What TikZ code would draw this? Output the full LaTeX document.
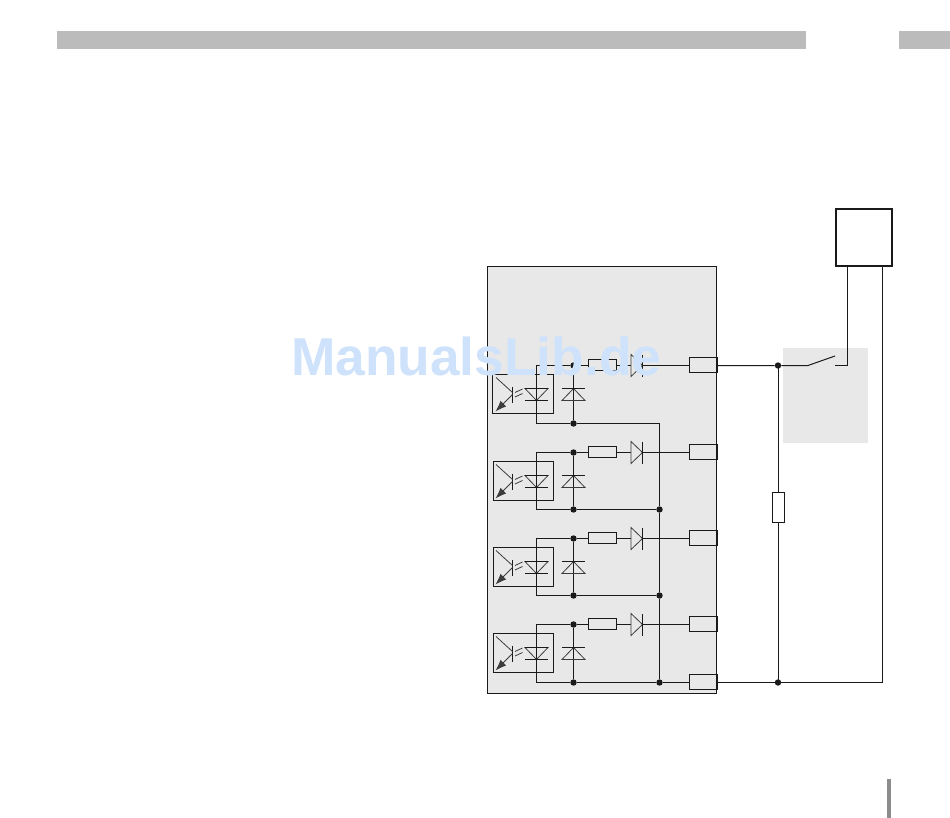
\documentclass[tikz,border=0pt]{standalone}
\usepackage{fontspec}
\setmainfont{Liberation Sans}
\usetikzlibrary{arrows.meta}
\definecolor{panel}{HTML}{E8E8E8}
\definecolor{headbar}{HTML}{BBBBBB}
\definecolor{sidebar}{HTML}{8C8C8C}
\definecolor{wm}{HTML}{CEE2FB}
\definecolor{ink}{HTML}{1A1A1A}
\tikzset{
  wire/.style={draw=ink,line width=1pt},
  thinwire/.style={draw=ink!85,line width=0.8pt},
  boxpart/.style={draw=ink,line width=1pt,minimum width=0pt,inner sep=0pt,outer sep=0pt,rectangle},
  junction/.style={circle,fill=ink,inner sep=0pt,minimum size=6.4pt},
  pinbox/.style={boxpart,minimum width=28pt,minimum height=15pt},
  resbox/.style={boxpart,minimum width=28pt,minimum height=11pt},
}
\begin{document}
\begin{tikzpicture}[x=1pt,y=-1pt]
\useasboundingbox (0,0) rectangle (950,818);
\fill[white] (0,0) rectangle (950,818);
% header and side bars
\fill[headbar] (57,31.5) rectangle (806,49.5);
\fill[headbar] (899,31.5) rectangle (950,49.5);
\fill[sidebar] (887,779) rectangle (891,818);
% panels
\path[fill=panel,draw=ink,line width=0.9pt] (487.5,266.5) rectangle (716.5,693.5);
\fill[panel] (783,348) rectangle (867.5,443);
% per-channel drawing
\foreach \n/\ty/\by/\ox in {1/365.5/423.5/492.5, 2/452.5/509.5/493.5, 3/538.5/595.5/493.5, 4/624.5/682.5/493.5}{
  \pgfmathsetmacro{\oy}{\ty+9}
  \coordinate (top\n) at (536.5,\ty);
  \coordinate (bot\n) at (536.5,\by);
  \node[junction] (dt\n) at (573.5,\ty) {};
  \node[junction] (db\n) at (573.5,\by) {};
  \node[resbox] (res\n) at (602.5,\ty-0.5) {};
  \node[pinbox] (pin\n) at (703.5,\ty-0.5) {};
  \coordinate (dA\n) at (631,\ty);
  \coordinate (dK\n) at (642.5,\ty);
  % wiring
  \draw[wire] (bot\n) -- (top\n) -- (dt\n) -- (res\n.west |- dt\n);
  \draw[wire] (res\n.east |- dA\n) -- (dA\n);
  \draw[wire] (dK\n) -- (pin\n.west |- dK\n);
  \draw[wire] (dt\n) -- (db\n);
  \draw[wire] (bot\n) -- (db\n);
  % series diode
  \draw[thinwire] (631,\ty-11) -- (631,\ty+11) -- (dK\n) -- cycle;
  \draw[wire] (642.5,\ty-11) -- (642.5,\ty+11);
  % clamp diode
  \draw[thinwire] (573.5,\oy+14) -- (562,\oy+26) -- (585,\oy+26) -- cycle;
  \draw[wire] (562,\oy+14) -- (585,\oy+14);
  % opto coupler
  \draw[wire] (\ox,\oy) rectangle (553.5,\oy+39);
  \draw[thinwire] (525,\oy+14) -- (548,\oy+14) -- (536.5,\oy+26) -- cycle;
  \draw[wire] (525,\oy+14) -- (548,\oy+14);
  \draw[wire] (525,\oy+26) -- (548,\oy+26);
  \draw[wire] (512.5,\oy+12) -- (512.5,\oy+28);
  \draw[thinwire] (496,\oy+3) -- (512.5,\oy+18);
  \draw[thinwire,-{Latex[length=11pt,width=8pt]}] (512.5,\oy+20) -- (495.5,\oy+37);
  \draw[thinwire] (515,\oy+18) -- (522.5,\oy+14.5);
  \draw[thinwire] (515,\oy+22.5) -- (522.5,\oy+19);
}
% common return
\node[junction] (jc2) at (659.5,509.5) {};
\node[junction] (jc3) at (659.5,595.5) {};
\node[junction] (jc4) at (659.5,682.5) {};
\node[pinbox] (pin5) at (703.5,682) {};
\draw[wire] (db1) -- (659.5,423.5) -- (jc2);
\draw[wire] (db2) -- (jc2) -- (jc3) -- (jc4);
\draw[wire] (db3) -- (jc3);
\draw[wire] (db4) -- (jc4) -- (pin5.west |- jc4);
% external circuit
\node[junction] (ja) at (778,365.5) {};
\node[junction] (jb) at (778,682.5) {};
\node[boxpart,minimum width=12pt,minimum height=30pt,fill=white] (rext) at (778.5,507.5) {};
\node[draw=ink,line width=2pt,rectangle,inner sep=0pt,minimum width=56pt,minimum height=57pt] (load) at (864,237.5) {};
\coordinate (swA) at (808,365.5);
\coordinate (swB) at (835,356);
\coordinate (swC) at (835,365.5);
\coordinate (swD) at (847.5,365.5);
\coordinate (loadL) at (847.5,266);
\coordinate (loadR) at (882.5,266);
\coordinate (corner) at (882.5,682.5);
\draw[wire] (pin1.east |- ja) -- (ja) -- (swA) -- (swB);
\draw[wire] (swC) -- (swD) -- (loadL);
\draw[wire] (778.5,365.5) -- (rext.north);
\draw[wire] (rext.south) -- (778.5,682.5);
\draw[wire] (pin5.east |- jb) -- (jb) -- (corner) -- (loadR);
% watermark
\node[anchor=base west,inner sep=0pt,text=wm] (mark) at (291,375)
  {\resizebox{370pt}{!}{\bfseries ManualsLib.de}};
\end{tikzpicture}
\end{document}
